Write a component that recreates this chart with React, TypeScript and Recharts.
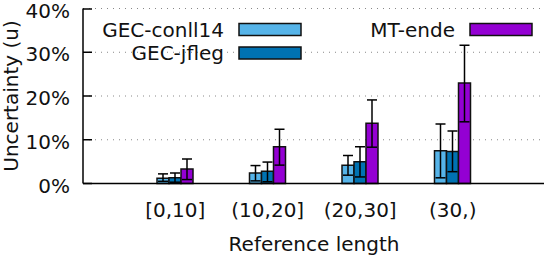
import { BarChart, Bar, XAxis, YAxis, CartesianGrid, ErrorBar, Legend } from 'recharts';

const categories = ['[0,10]', '(10,20]', '(20,30]', '(30,)'];

const conll14 = [1.2, 2.4, 4.2, 7.5];
const conll14Low = [0.5, 0.6, 1.9, 1.3];
const conll14High = [2.2, 4.1, 6.4, 13.6];

const jfleg = [1.3, 2.8, 5.0, 7.3];
const jflegLow = [0.3, 0.4, 1.5, 2.7];
const jflegHigh = [2.4, 4.9, 8.4, 12.0];

const mtEnde = [3.3, 8.4, 13.8, 23.0];
const mtEndeLow = [0.9, 4.2, 8.3, 14.1];
const mtEndeHigh = [5.6, 12.4, 19.1, 31.6];

const yTicks = [0, 10, 20, 30, 40];

const data = categories.map((name, i) => ({
  name,
  conll14: conll14[i],
  conll14Err: [conll14[i] - conll14Low[i], conll14High[i] - conll14[i]],
  jfleg: jfleg[i],
  jflegErr: [jfleg[i] - jflegLow[i], jflegHigh[i] - jfleg[i]],
  mtEnde: mtEnde[i],
  mtEndeErr: [mtEnde[i] - mtEndeLow[i], mtEndeHigh[i] - mtEnde[i]],
}));

const FONT = 'DejaVu Sans';
const W = 548;
const H = 256;
const PLOT_LEFT = 83;
const PLOT_TOP = 8.5;
const PLOT_BOTTOM = 183.5;
const PLOT_RIGHT = 544;

const YTick = ({ x, y, payload }: any) => (
  <g>
    <line x1={PLOT_LEFT} x2={PLOT_LEFT + 9} y1={y} y2={y} stroke="#000" strokeWidth={1.5} />
    <text x={x} y={y + 9} textAnchor="end" fontFamily={FONT} fontSize={20} fill="#111">
      {payload.value}%
    </text>
  </g>
);

const XTick = ({ x, y, payload }: any) => (
  <text x={x} y={y + 33} textAnchor="middle" fontFamily={FONT} fontSize={20} fill="#111">
    {payload.value}
  </text>
);

const legendSpots: Record<string, { right: number; box: number; y: number }> = {
  conll14: { right: 224, box: 239, y: 23.5 },
  jfleg: { right: 224, box: 239, y: 47 },
  mtEnde: { right: 455, box: 470, y: 23.5 },
};

const renderLegend = ({ payload }: any) => (
  <svg width={W} height={H}>
    {(payload || []).map((p: any) => {
      const s = legendSpots[p.dataKey];
      if (!s) return null;
      return (
        <g key={p.dataKey}>
          <text x={s.right} y={s.y + 13} textAnchor="end" fontFamily={FONT} fontSize={20} fill="#111">
            {p.value}
          </text>
          <rect x={s.box} y={s.y} width={62} height={12} fill={p.color} stroke="#111" strokeWidth={1.5} />
        </g>
      );
    })}
  </svg>
);

const axisStroke = { stroke: '#000', strokeWidth: 1.5 };

const App = () => (
  <div style={{ position: 'absolute', left: 0, top: 0 }}>
    <BarChart
      width={W}
      height={H}
      data={data}
      margin={{ top: PLOT_TOP, right: W - PLOT_RIGHT, left: 0, bottom: 0 }}
      barSize={12}
      barGap={0}
    >
      <CartesianGrid vertical={false} stroke="#888" strokeDasharray="1 5" />
      <XAxis
        dataKey="name"
        height={H - PLOT_BOTTOM}
        padding={{ left: 46, right: 45 }}
        tickLine={false}
        tickSize={0}
        tickMargin={0}
        axisLine={axisStroke}
        tick={<XTick />}
        interval={0}
      />
      <XAxis
        xAxisId="top"
        orientation="top"
        dataKey="name"
        height={0}
        padding={{ left: 46, right: 45 }}
        tick={false}
        tickLine={false}
        axisLine={axisStroke}
      />
      <YAxis
        width={PLOT_LEFT}
        domain={[0, 40]}
        ticks={yTicks}
        tickLine={false}
        tickSize={0}
        tickMargin={13}
        axisLine={axisStroke}
        tick={<YTick />}
      />
      <YAxis
        yAxisId="right"
        orientation="right"
        width={0}
        mirror
        domain={[0, 40]}
        ticks={yTicks}
        tick={false}
        tickSize={9}
        tickLine={axisStroke}
        axisLine={axisStroke}
      />
      <Legend
        layout="horizontal"
        verticalAlign="middle"
        align="center"
        content={renderLegend}
        wrapperStyle={{ left: 0, top: 0, width: W, height: H, pointerEvents: 'none' }}
      />
      <Bar dataKey="conll14" name="GEC-conll14" fill="#56b4e9" stroke="#111" strokeWidth={1.5} isAnimationActive={false}>
        <ErrorBar dataKey="conll14Err" width={5} stroke="#000" strokeWidth={1.5} isAnimationActive={false} />
      </Bar>
      <Bar dataKey="jfleg" name="GEC-jfleg" fill="#0072b2" stroke="#111" strokeWidth={1.5} isAnimationActive={false}>
        <ErrorBar dataKey="jflegErr" width={5} stroke="#000" strokeWidth={1.5} isAnimationActive={false} />
      </Bar>
      <Bar dataKey="mtEnde" name="MT-ende" fill="#9400d3" stroke="#111" strokeWidth={1.5} isAnimationActive={false}>
        <ErrorBar dataKey="mtEndeErr" width={5} stroke="#000" strokeWidth={1.5} isAnimationActive={false} />
      </Bar>
      <text x={314} y={250.5} textAnchor="middle" fontFamily={FONT} fontSize={20} fill="#111">
        Reference length
      </text>
      <text
        x={17.9}
        y={96}
        textAnchor="middle"
        fontFamily={FONT}
        fontSize={20}
        fill="#111"
        transform="rotate(-90 17.9 96)"
      >
        Uncertainty (u)
      </text>
    </BarChart>
  </div>
);

export default App;
